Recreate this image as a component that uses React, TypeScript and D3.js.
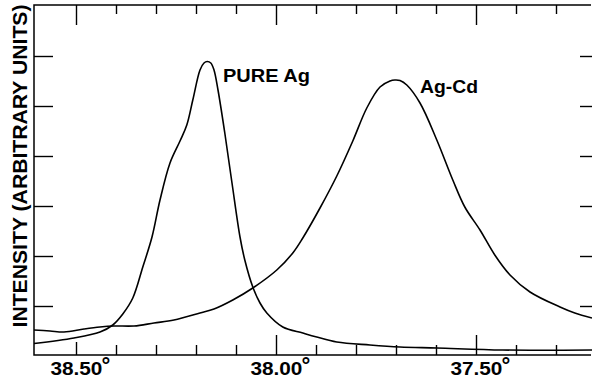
import React from "react";
import * as d3 from "d3";

// Diffraction angle (2θ, degrees) and intensity (arbitrary units)
const pureAgAngle = [38.606, 38.506, 38.441, 38.409, 38.384, 38.359, 38.334, 38.311, 38.291, 38.266, 38.241, 38.224, 38.209, 38.191, 38.181, 38.173, 38.164, 38.156, 38.146, 38.129, 38.111, 38.091, 38.079, 38.059, 38.041, 38.024, 37.984, 37.934, 37.899, 37.849, 37.766, 37.691, 37.599, 37.434, 37.211];
const pureAgIntensity = [0.25, 0.36, 0.48, 0.62, 0.84, 1.16, 1.78, 2.38, 3.12, 3.86, 4.30, 4.62, 5.12, 5.72, 5.86, 5.89, 5.86, 5.72, 5.32, 4.46, 3.46, 2.38, 1.92, 1.38, 1.06, 0.86, 0.58, 0.46, 0.38, 0.28, 0.22, 0.18, 0.16, 0.12, 0.12];

const agCdAngle = [38.606, 38.566, 38.531, 38.481, 38.441, 38.406, 38.356, 38.306, 38.256, 38.191, 38.156, 38.109, 38.059, 37.999, 37.959, 37.934, 37.891, 37.849, 37.809, 37.774, 37.741, 37.716, 37.704, 37.691, 37.674, 37.641, 37.599, 37.559, 37.529, 37.491, 37.454, 37.416, 37.366, 37.291, 37.254, 37.211];
const agCdIntensity = [0.52, 0.50, 0.48, 0.54, 0.58, 0.60, 0.60, 0.66, 0.72, 0.86, 0.94, 1.12, 1.36, 1.72, 2.06, 2.36, 2.96, 3.60, 4.30, 4.96, 5.38, 5.50, 5.52, 5.51, 5.42, 5.06, 4.32, 3.52, 2.98, 2.52, 2.02, 1.62, 1.28, 0.98, 0.86, 0.76];

const xTickValues = [38.5, 38.4, 38.3, 38.2, 38.1, 38.0, 37.9, 37.8, 37.7, 37.6, 37.5, 37.4, 37.3];
const xMajorLabels = ["38.50", "38.00", "37.50"];
const xMajorValues = [38.5, 38.0, 37.5];
const yTickValues = [1, 2, 3, 4, 5, 6];

const seriesLabels = ["PURE Ag", "Ag-Cd"];
const yAxisTitle = "INTENSITY (ARBITRARY UNITS)";

const W = 592;
const H = 379;
const L = 34;
const R = 591;
const T = 5;
const B = 355;

export default function App() {
  const x = d3.scaleLinear().domain([38.606, 37.211]).range([L, 592]);
  const y = d3.scaleLinear().domain([0, 7]).range([356, 6]);

  const line = d3
    .line<[number, number]>()
    .x((d) => x(d[0]))
    .y((d) => y(d[1]))
    .curve(d3.curveCatmullRom.alpha(0.5));

  const agData = pureAgAngle.map((a, i) => [a, pureAgIntensity[i]] as [number, number]);
  const cdData = agCdAngle.map((a, i) => [a, agCdIntensity[i]] as [number, number]);

  const isMajor = (v: number) => xMajorValues.some((m) => Math.abs(m - v) < 1e-6);
  const font = "'Liberation Sans', Arial, sans-serif";

  return (
    <svg
      width={W}
      height={H}
      style={{ position: "absolute", left: 0, top: 0, background: "#fff" }}
    >
      <rect x={0} y={0} width={W} height={H} fill="#fff" />
      {/* frame */}
      <path
        d={`M${R},${T} L${L},${T} L${L},${B} L${R},${B}`}
        fill="none"
        stroke="#000"
        strokeWidth={1.5}
      />
      {/* x ticks top & bottom */}
      {xTickValues.map((v) => {
        const px = Math.round(x(v)) + 0.5;
        const major = isMajor(v);
        const topLen = major ? 20 : 9;
        const botLen = major ? (v === 38.5 ? 13 : 20) : 10;
        return (
          <g key={v}>
            <line x1={px} x2={px} y1={T} y2={T + topLen} stroke="#000" strokeWidth={1.4} />
            <line x1={px} x2={px} y1={B} y2={B - botLen} stroke="#000" strokeWidth={1.4} />
          </g>
        );
      })}
      {/* y ticks left & right */}
      {yTickValues.map((v) => {
        const py = Math.round(y(v)) + 0.5;
        return (
          <g key={v}>
            <line x1={L} x2={L + 19} y1={py} y2={py} stroke="#000" strokeWidth={1.4} />
            <line x1={580} x2={592} y1={py} y2={py} stroke="#000" strokeWidth={1.4} />
          </g>
        );
      })}
      {/* curves */}
      <path d={line(agData) || ""} fill="none" stroke="#000" strokeWidth={1.6} />
      <path d={line(cdData) || ""} fill="none" stroke="#000" strokeWidth={1.6} />
      {/* x labels */}
      {xMajorValues.map((v, i) => (
        <g key={v} transform={`translate(${x(v)},375)`}>
          <text
            x={0}
            y={0}
            textAnchor="middle"
            fontFamily={font}
            fontWeight="bold"
            fontSize={19}
            textLength={52}
            lengthAdjust="spacingAndGlyphs"
          >
            {xMajorLabels[i]}
          </text>
          <text x={25} y={-2} fontFamily={font} fontWeight="bold" fontSize={22}>
            °
          </text>
        </g>
      ))}
      {/* series labels */}
      <text
        x={223}
        y={82}
        fontFamily={font}
        fontWeight="bold"
        fontSize={19}
        textLength={87}
        lengthAdjust="spacingAndGlyphs"
      >
        {seriesLabels[0]}
      </text>
      <text
        x={420}
        y={93}
        fontFamily={font}
        fontWeight="bold"
        fontSize={19}
        textLength={58}
        lengthAdjust="spacingAndGlyphs"
      >
        {seriesLabels[1]}
      </text>
      {/* y-axis title */}
      <text
        transform={`translate(27,166) rotate(-90)`}
        textAnchor="middle"
        fontFamily={font}
        fontWeight="bold"
        fontSize={20}
        textLength={323}
        lengthAdjust="spacingAndGlyphs"
      >
        {yAxisTitle}
      </text>
    </svg>
  );
}
